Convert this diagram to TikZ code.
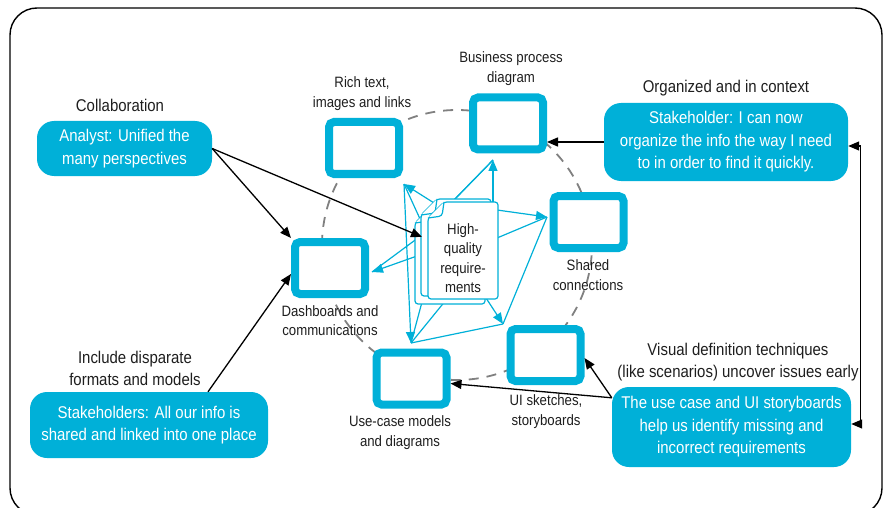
\documentclass[tikz,border=0pt]{standalone}
\usepackage{fontspec}
\setmainfont{Liberation Sans}[FakeStretch=0.88]
\usetikzlibrary{arrows.meta}
\definecolor{reqblue}{RGB}{0,176,216}
\definecolor{inkgray}{RGB}{30,30,30}
\newcommand{\reqsheet}[1]{%
  \draw[page,shift={#1}] (16,0) -- (70,0) -- (70,97) -- (0,97) -- (0,16) -- cycle;
  \draw[page,shift={#1}] (16,0) -- (14,14) -- (0,16);}

\begin{document}
\begin{tikzpicture}[x=1pt,y=-1pt,
    screen/.style={draw=reqblue,line width=8pt,fill=white,rounded corners=5pt,
      minimum width=70pt,minimum height=52pt,inner sep=0pt},
    bubble/.style={fill=reqblue,text=white,rounded corners=17pt,align=center,
      inner sep=0pt,font=\fontsize{17}{22.5}\selectfont},
    heading/.style={align=center,text=inkgray,font=\fontsize{17}{22.5}\selectfont},
    caption/.style={align=center,text=inkgray,font=\fontsize{15}{19.5}\selectfont},
    link/.style={black,line width=1.3pt,-{Triangle[length=11pt,width=9pt]}},
    rail/.style={black,line width=1.3pt,{Triangle[length=11pt,width=9pt]}-{Triangle[length=11pt,width=9pt]}},
    spoke/.style={reqblue,line width=1.2pt},
    tip/.style={spoke,-{Triangle[length=11pt,width=9pt]}},
    page/.style={draw=reqblue,line width=1.2pt,fill=white,rounded corners=3pt}]
	    \useasboundingbox (0,0) rectangle (889,508);
	    \clip (0,0) rectangle (889,508);
	    \draw[line width=1.4pt,rounded corners=27pt] (10,8) rectangle (882,515);
	    \draw[gray,line width=1.8pt,dash pattern=on 10pt off 8pt] (457,245) circle[radius=135pt];

	    \node[screen] (rich) at (364,148) {};
	    \node[screen] (bpd) at (508,123.5) {};
	    \node[screen] (shared) at (588.5,222) {};
	    \node[screen] (dash) at (330,268) {};
	    \node[screen] (ui) at (545.5,355) {};
	    \node[screen] (usecase) at (411.5,378.5) {};

	    \node[caption] (richcap) at (362,93.5) {Rich text,\\images and links};
	    \node[caption] (bpdcap) at (511,68.5) {Business process\\diagram};
	    \node[caption] (sharedcap) at (588,275) {Shared\\connections};
	    \node[caption] (dashcap) at (330,320.5) {Dashboards and\\communications};
	    \node[caption] (uicap) at (546,411.5) {UI sketches,\\storyboards};
	    \node[caption] (usecasecap) at (400,432.5) {Use-case models\\and diagrams};

	    \coordinate (tipRich) at (404,184);
	    \coordinate (tipBpd) at (493,160);
	    \coordinate (tipShared) at (547,217);
	    \coordinate (tipUi) at (503,324);
	    \coordinate (tipUse) at (411,343);
	    \coordinate (tipDash) at (372,272);

	    \draw[tip] (442,208) -- (tipRich);
	    \draw[spoke] (tipRich) -- (426,232);
	    \draw[tip] (tipRich) -- (tipUse);
	    \draw[tip] (493,205) -- (tipBpd);
	    \draw[spoke] (tipBpd) -- (450,204);
	    \draw[spoke] (tipBpd) -- (421,234);
	    \draw[tip] (497,210) -- (tipShared);
	    \draw[spoke] (tipShared) -- (497,238);
	    \draw[spoke] (tipShared) -- (tipUi);
	    \draw[tip] (486,298) -- (tipUi);
	    \draw[spoke] (tipUse) -- (tipUi);
	    \draw[spoke] (tipUse) -- (422,302);
	    \draw[spoke] (tipUse) -- (446,300);
	    \draw[tip] (417,256) -- (tipDash);
	    \draw[spoke] (tipDash) -- (426,232);

	    \reqsheet{(415,207)}
	    \reqsheet{(421,199)}
	    \reqsheet{(428,202)}
	    \node[caption] (hq) at (463,258) {High-\\quality\\require-\\ments};

	    \node[heading] (collab) at (120,105) {Collaboration};
	    \node[bubble,minimum width=175pt,minimum height=55pt] (analyst) at (124.5,148.5) {Analyst: Unified the\\many perspectives};
	    \node[heading] (include) at (135,368.5) {Include disparate\\formats and models};
	    \node[bubble,minimum width=238pt,minimum height=66pt] (stake) at (149,425) {Stakeholders: All our info is\\shared and linked into one place};
	    \node[heading] (organized) at (726,88) {Organized and in context};
	    \node[bubble,minimum width=244pt,minimum height=78pt] (organize) at (726,142) {Stakeholder: I can now\\organize the info the way I need\\to in order to find it quickly.};
	    \node[heading] (visual) at (738,362) {Visual definition techniques\\(like scenarios) uncover issues early};
	    \node[bubble,minimum width=239pt,minimum height=80pt] (story) at (731.5,427) {The use case and UI storyboards\\help us identify missing and\\incorrect requirements};

	    \coordinate (docs) at (422,237);
	    \coordinate (storyout) at ([yshift=-11pt]story.north west);
	    \draw[link] (analyst.east) -- (dash.north west);
	    \draw[link] (analyst.east) -- (docs);
	    \draw[link] ([xshift=59pt]stake.north) -- ([yshift=-6pt]dash.west);
	    \draw[link] (organize.west) -- (organize.west -| bpd.east);
	    \draw[link] (storyout) -- ([yshift=-3pt]ui.east);
	    \draw[link] (storyout) -- ([yshift=-5pt]usecase.east);
	    \draw[rail] ([yshift=-4pt]organize.east) -- ++(12,0) |- ([yshift=3pt]story.east);
	\end{tikzpicture}
\end{document}
